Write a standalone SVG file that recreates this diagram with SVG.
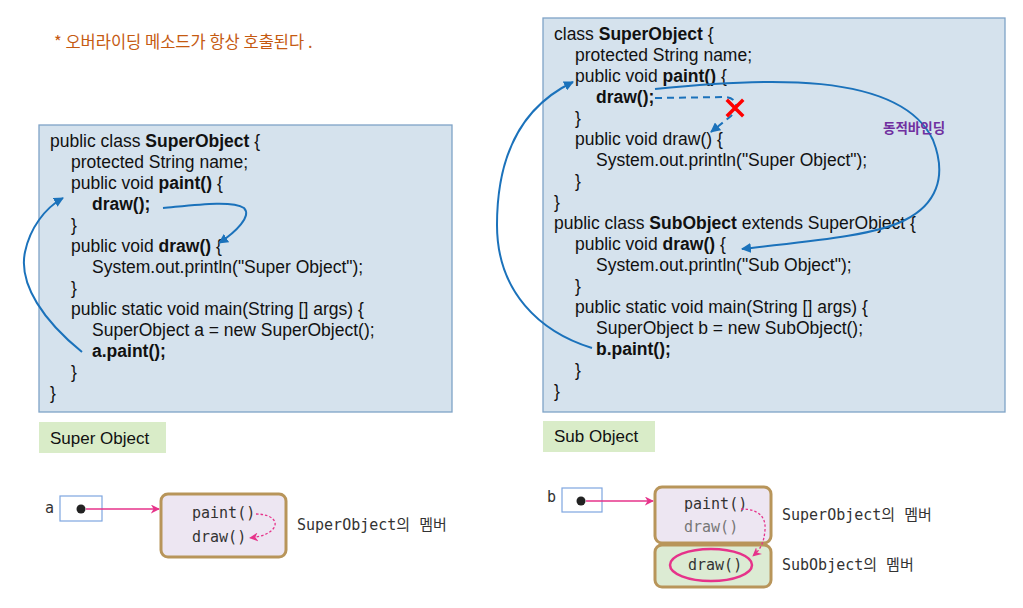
<svg xmlns="http://www.w3.org/2000/svg" width="1023" height="608" viewBox="0 0 1023 608">
<defs>
<marker id="ab" viewBox="0 0 10 10" refX="9" refY="5" markerWidth="5" markerHeight="5" orient="auto-start-reverse" markerUnits="strokeWidth"><path d="M0,0 L10,5 L0,10 Z" fill="#1b72bb"/></marker>
<marker id="ap" viewBox="0 0 10 10" refX="9" refY="5" markerWidth="9" markerHeight="9" orient="auto" markerUnits="userSpaceOnUse"><path d="M0,0 L10,5 L0,10 L3,5 Z" fill="#e6338a"/></marker>
</defs>
<style>
.code{font-family:"Liberation Sans",Arial,sans-serif;font-size:17.5px;fill:#111}
.b{font-weight:bold}
.panel{fill:#d5e2ed;stroke:#7fa3c7;stroke-width:1.3}
.lbl{fill:#d9ecc8}
.lbltxt{font-family:"Liberation Sans",Arial,sans-serif;font-size:17px;fill:#111}
.mono{font-family:"DejaVu Sans Mono","Noto Sans CJK KR",monospace;font-size:15px;fill:#333}
.obj{stroke:#b8955a;stroke-width:3}
.blue{fill:none;stroke:#1b72bb;stroke-width:2;marker-end:url(#ab)}
.pink{fill:none;stroke:#e6338a;stroke-width:1.3}
.pdash{fill:none;stroke:#e6338a;stroke-width:1.3;stroke-dasharray:2.5 2;marker-end:url(#ap)}
.refbox{fill:#fff;stroke:#7ea6e0;stroke-width:1.2}
</style>
<rect width="1023" height="608" fill="#fff"/>
<text x="54" y="48" style="font-family:'Noto Sans CJK KR','Liberation Sans',sans-serif;font-size:16.5px;fill:#c55a11">* 오버라이딩 메소드가 항상 호출된다 .</text>

<g id="super-code">
<rect class="panel" x="39" y="125" width="413" height="287"/>
<text class="code" x="50" y="147">public class <tspan class="b">SuperObject</tspan> {</text>
<text class="code" x="71" y="168">protected String name;</text>
<text class="code" x="71" y="189">public void <tspan class="b">paint()</tspan> {</text>
<text class="code b" x="92" y="210">draw();</text>
<text class="code" x="71" y="231">}</text>
<text class="code" x="71" y="252">public void <tspan class="b">draw()</tspan> {</text>
<text class="code" x="92" y="273">System.out.println("Super Object");</text>
<text class="code" x="71" y="294">}</text>
<text class="code" x="71" y="315">public static void main(String [] args) {</text>
<text class="code" x="92" y="336">SuperObject a = new SuperObject();</text>
<text class="code b" x="92" y="357">a.paint();</text>
<text class="code" x="71" y="378">}</text>
<text class="code" x="50" y="399">}</text>
</g>

<g id="sub-code">
<rect class="panel" x="543" y="18" width="462" height="394"/>
<text class="code" x="554" y="40">class <tspan class="b">SuperObject</tspan> {</text>
<text class="code" x="575" y="61">protected String name;</text>
<text class="code" x="575" y="82">public void <tspan class="b">paint()</tspan> {</text>
<text class="code b" x="596" y="103">draw();</text>
<text class="code" x="575" y="124">}</text>
<text class="code" x="575" y="145">public void draw() {</text>
<text class="code" x="596" y="166">System.out.println("Super Object");</text>
<text class="code" x="575" y="187">}</text>
<text class="code" x="554" y="208">}</text>
<text class="code" x="554" y="229">public class <tspan class="b">SubObject</tspan> extends SuperObject {</text>
<text class="code" x="575" y="250">public void <tspan class="b">draw()</tspan> {</text>
<text class="code" x="596" y="271">System.out.println("Sub Object");</text>
<text class="code" x="575" y="292">}</text>
<text class="code" x="575" y="313">public static void main(String [] args) {</text>
<text class="code" x="596" y="334">SuperObject b = new SubObject();</text>
<text class="code b" x="596" y="355">b.paint();</text>
<text class="code" x="575" y="376">}</text>
<text class="code" x="554" y="397">}</text>
</g>

<g id="label-super">
<rect class="lbl" x="39" y="422" width="127" height="31"/>
<text class="lbltxt" x="50" y="444">Super Object</text>
</g>
<g id="label-sub">
<rect class="lbl" x="543" y="421" width="112" height="31"/>
<text class="lbltxt" x="554" y="442">Sub Object</text>
</g>

<g id="ref-a">
<text class="mono" x="45" y="513">a</text>
<rect class="refbox" x="60" y="496" width="42" height="25"/>
<circle cx="81" cy="509" r="4.5" fill="#222"/>
</g>
<g id="obj-a">
<rect class="obj" x="161" y="494" width="125" height="63" rx="7" fill="#ede6f2"/>
<text class="mono" x="192" y="518">paint()</text>
<text class="mono" x="192" y="542">draw()</text>
<text class="mono" x="297" y="530">SuperObject의 멤버</text>
</g>

<g id="ref-b">
<text class="mono" x="547" y="502">b</text>
<rect class="refbox" x="562" y="488" width="40" height="24"/>
<circle cx="581" cy="501" r="4.5" fill="#222"/>
</g>
<g id="obj-b">
<rect class="obj" x="655" y="487" width="116" height="56" rx="7" fill="#ede6f2"/>
<rect class="obj" x="655" y="545" width="116" height="42" rx="7" fill="#dcebd3"/>
<text class="mono" x="684" y="509">paint()</text>
<text class="mono" x="684" y="532" style="fill:#777">draw()</text>
<text class="mono" x="688" y="570">draw()</text>
<ellipse cx="711" cy="565" rx="41" ry="16" fill="none" stroke="#e6338a" stroke-width="2.5"/>
<text class="mono" x="782" y="520">SuperObject의 멤버</text>
<text class="mono" x="782" y="570">SubObject의 멤버</text>
</g>

<g id="connectors">
<path class="blue" d="M163,208 C195,205 232,200 244,208 C252,216 236,232 219,243"/>
<path class="blue" d="M82,352 C45,322 18,285 25,252 C30,228 45,208 63,198"/>
<path class="blue" d="M592,348 C540,332 497,292 497,225 C497,150 525,105 573,82"/>
<path class="blue" d="M655,89 C760,78 900,70 933,140 C948,178 935,205 905,220 C872,237 800,242 742,249"/>
<path class="blue" style="stroke-dasharray:7 5" d="M655,98 L725,97 C737,98 740,107 731,116 L711,132"/>
<path d="M728,101 L742,115 M742,101 L728,115" stroke="#f00" stroke-width="3.5" stroke-linecap="square"/>
<text x="883" y="133" style="font-family:'Noto Sans CJK KR',sans-serif;font-size:13.5px;font-weight:bold;fill:#7030a0">동적바인딩</text>
<path class="pink" d="M86,509 L159,509" style="marker-end:url(#ap)"/>
<path class="pink" d="M586,501 L653,501" style="marker-end:url(#ap)"/>
<path class="pdash" d="M256,514 C272,514 279,522 273,529 C268,535 258,537 250,538"/>
<path class="pdash" d="M741,509 C760,509 766,518 765,530 C764,542 761,549 753,556"/>
</g>
</svg>
